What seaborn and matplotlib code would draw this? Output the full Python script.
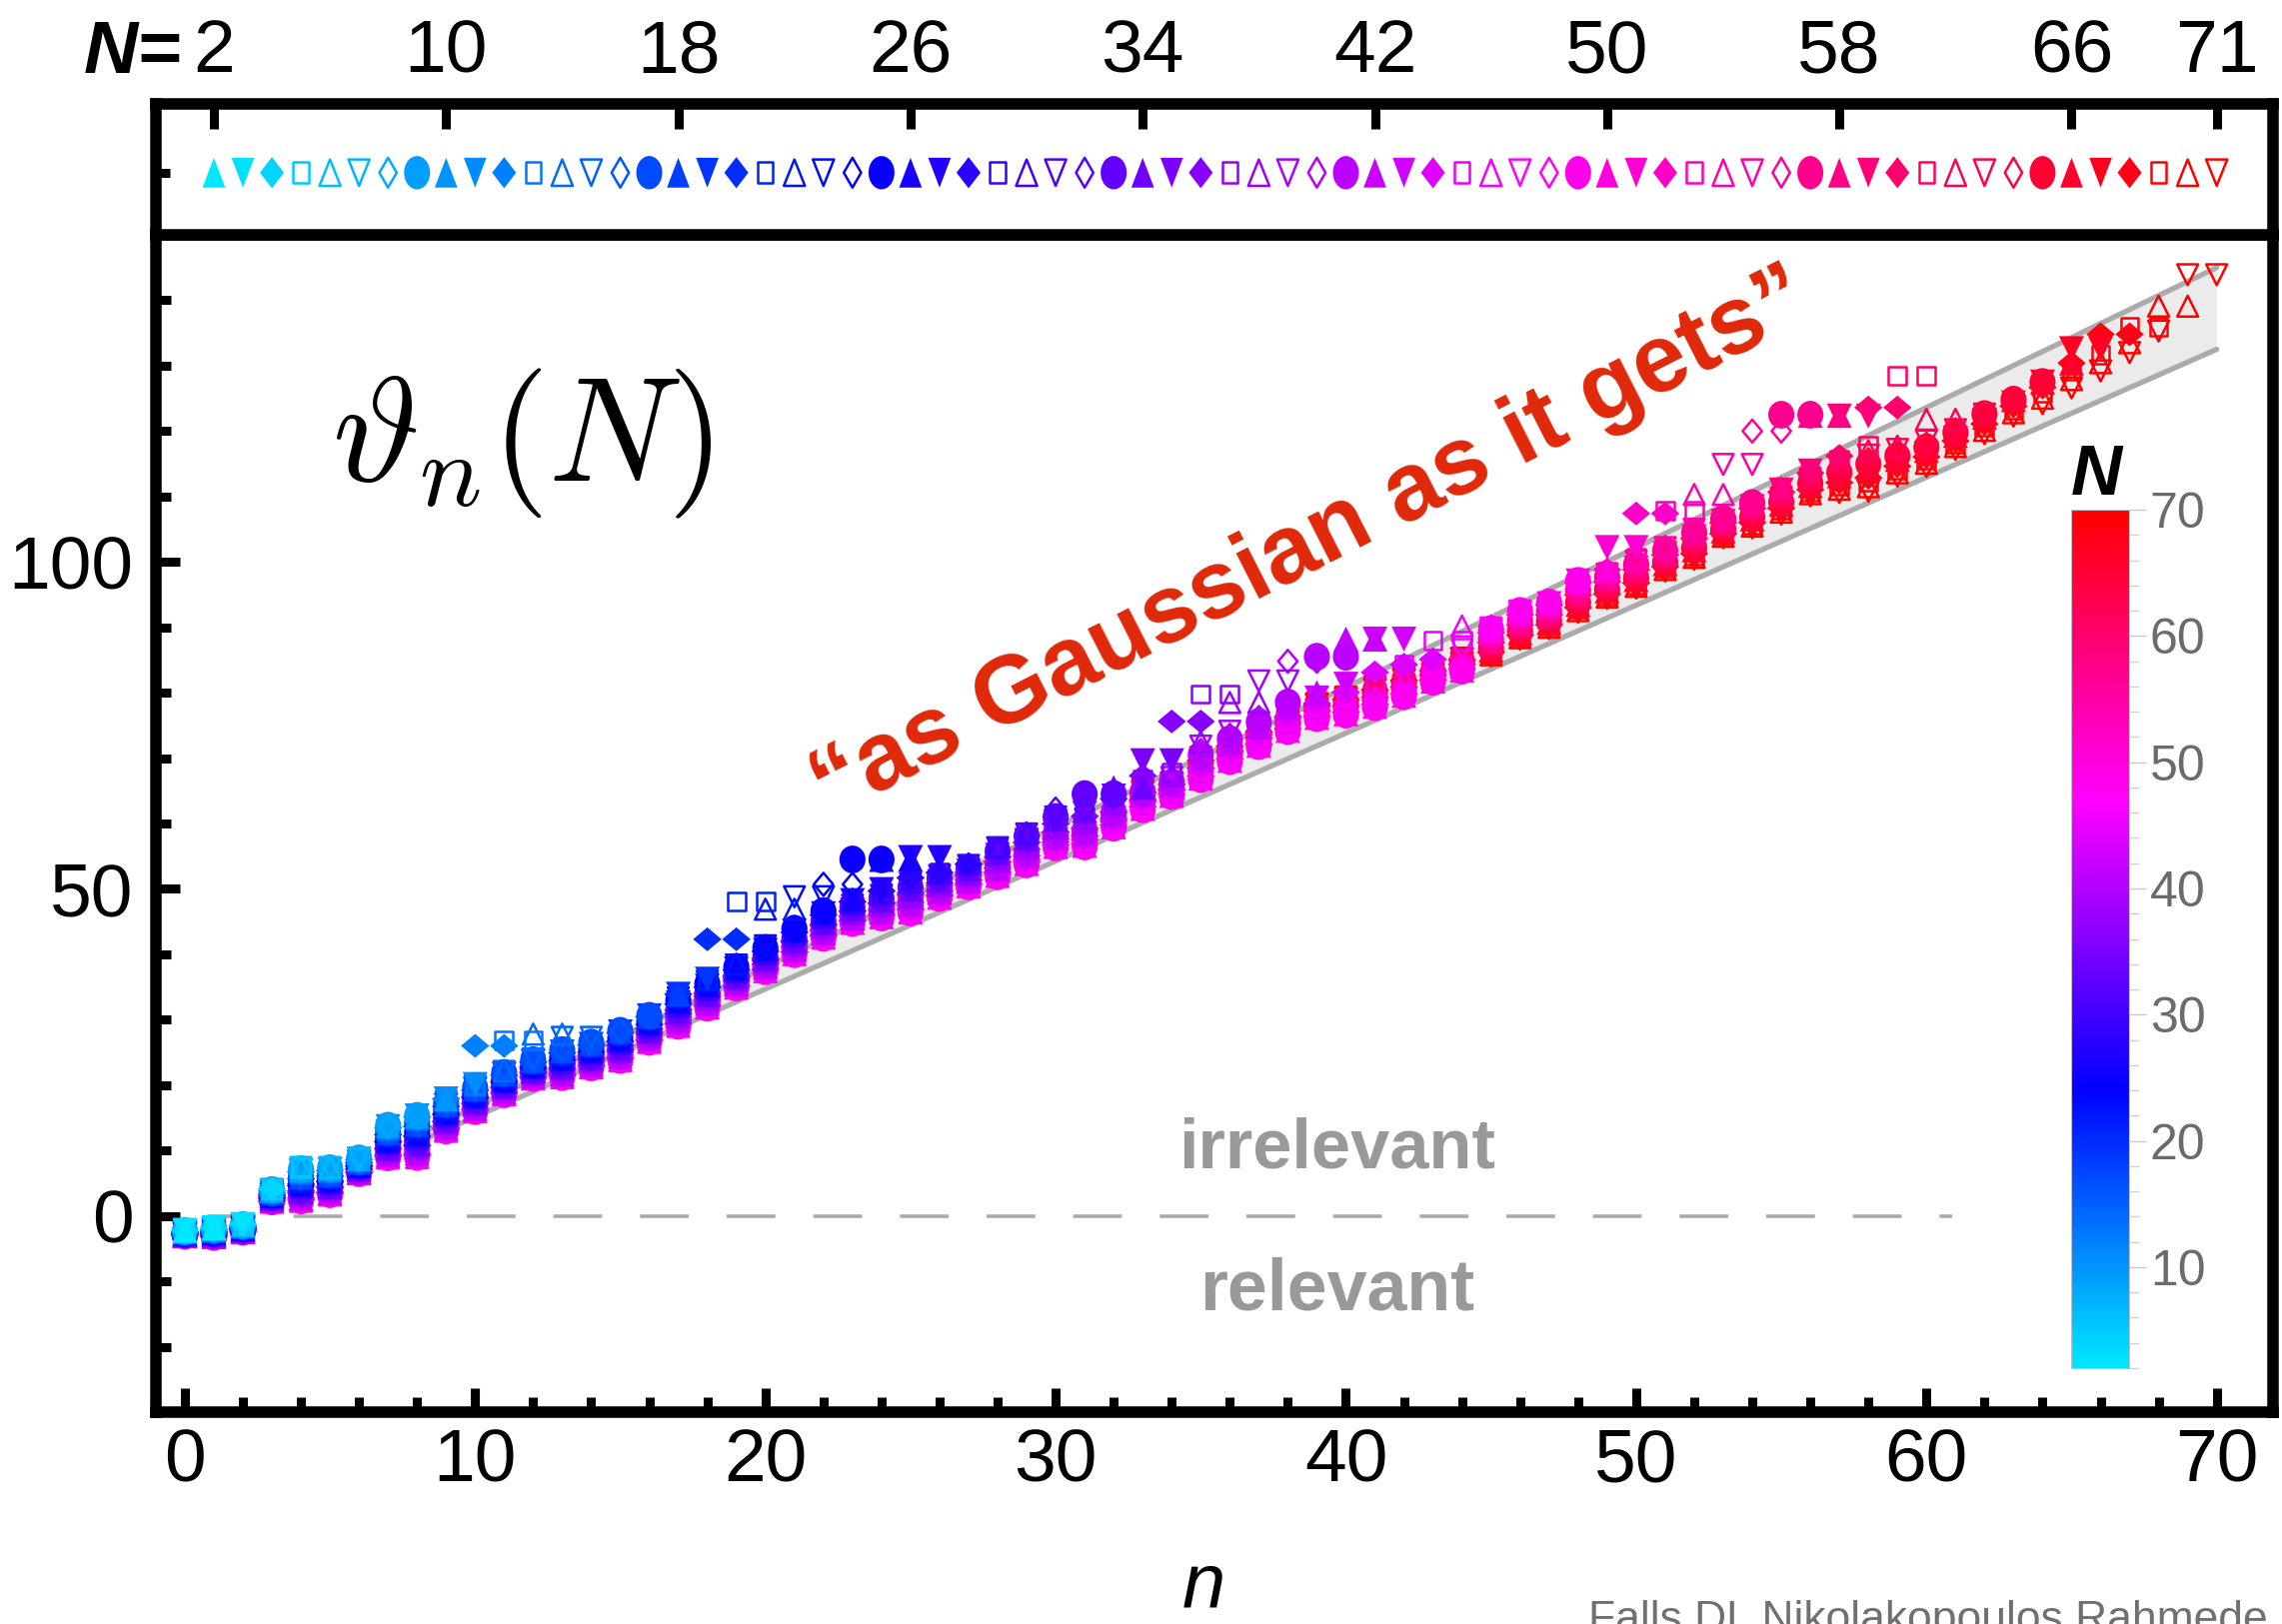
import numpy as np
import pandas as pd
import matplotlib
matplotlib.use("Agg")
import matplotlib.pyplot as plt
import seaborn as sns
from matplotlib.path import Path
from matplotlib.colors import LinearSegmentedColormap, Normalize
from matplotlib.cm import ScalarMappable
from matplotlib.ticker import FixedLocator

# ---------------- data ----------------
n_values = list(range(71))
# top / bottom of the stacked column of points at each n (centres)
bulk_hi = [-2.2, -1.8, -1.3, 4.1, 7.4, 7.4, 8.8, 13.8, 15.3, 17.9,
           20.1, 22.2, 24.0, 25.5, 26.5, 28.3, 30.6, 33.9, 36.2, 38.5,
           41.3, 44.1, 46.6, 48.4, 49.9, 51.7, 52.5, 53.8, 56.3, 58.4,
           61.0, 62.0, 64.2, 67.3, 67.8, 72.5, 74.1, 76.2, 78.5, 80.0,
           81.3, 83.1, 84.3, 85.1, 86.6, 89.9, 92.5, 93.8, 97.1, 98.8,
           100.6, 102.4, 105.0, 106.8, 109.0, 111.3, 113.9, 116.2, 117.7, 117.7,
           118.5, 120.2, 122.6, 124.8, 127.5, 130.4, 131.7, 133.5, 135.3, 139.1,
           143.9]
bulk_lo = [-3.1, -3.3, -2.5, 2.1, 2.1, 3.1, 6.4, 8.7, 8.7, 12.8,
           15.8, 18.4, 20.9, 21.0, 22.5, 23.6, 26.4, 28.8, 31.6, 34.7,
           37.2, 39.8, 42.3, 44.6, 45.4, 46.1, 48.4, 50.2, 51.7, 53.5,
           56.1, 56.2, 59.1, 61.9, 64.0, 66.5, 69.3, 71.6, 73.9, 75.9,
           76.4, 77.5, 79.2, 81.5, 83.3, 85.6, 88.2, 89.8, 92.3, 94.4,
           96.0, 98.6, 100.4, 103.7, 105.2, 107.3, 110.1, 110.6, 110.8, 113.1,
           114.6, 117.2, 119.6, 122.3, 124.2, 126.6, 129.2, 132.0, 134.5, 139.1,
           143.9]
# N whose points sit lowest in each column (high N drift back up above it)
column_bottom_N = [47] * 45 + [71] * 26
# the last two exponents (n = N-2, N-1) of these N sit above the band
pair_N = [12, 13, 14, 15, 20, 21, 22, 23, 24, 25, 26, 27,
          32, 33, 34, 35, 36, 37, 38, 39, 40, 41, 42, 43, 45, 46,
          51, 52, 53, 54, 55, 56, 57, 58, 59, 60, 61, 62,
          67, 68, 69, 70, 71]
pair_theta = [26.0, 26.8, 27.8, 27.3, 42.3, 48.1, 46.9, 48.8, 50.7, 54.5, 54.5, 54.8,
              62.2, 64.5, 65.5, 69.6, 75.6, 79.8, 78.5, 81.8, 84.8, 85.5, 88.2, 88.2, 88.0, 90.2,
              102.2, 107.4, 107.8, 110.3, 114.9, 120.0, 122.5, 122.4, 122.3, 123.6, 128.5, 121.8,
              132.6, 134.8, 136.0, 139.1, 143.9]
strip_N = list(range(2, 72))
top_tick_N = [2, 10, 18, 26, 34, 42, 50, 58, 66, 71]
band_n = [8.3, 70.0]
band_lower = [11.8, 132.5]
band_upper = [13.0, 145.0]
zero_line_n = [0.75, 60.9]
cbar_major = [10, 20, 30, 40, 50, 60, 70]
cmap_N = [2, 24, 47, 70]
cmap_colors = ["#00e8ff", "#0000ff", "#ff00ff", "#ff0000"]
N_min, N_max = 2, 70

# ---------------- build the table ----------------
pairs = dict(zip(pair_N, pair_theta))
rows = []
for N in strip_N:
    for n in range(N):
        if N in pairs and n >= N - 2:
            th = pairs[N]
        else:
            first = n + 3
            nb = max(column_bottom_N[n], first + 1)
            if N <= nb:
                r = (N - first) / (nb - first)
            else:
                r = 1.0 - 0.6 * (N - nb) / max(71 - nb, 1)
            r = min(max(r, 0.0), 1.0)
            th = bulk_hi[n] - r * (bulk_hi[n] - bulk_lo[n])
        rows.append({"N": N, "n": n, "theta": th})
df = pd.DataFrame(rows)
df_strip = pd.DataFrame({"N": strip_N, "pos": [N - 1 for N in strip_N], "y": [0.0] * len(strip_N)})

# ---------------- style ----------------
sns.set_theme(style="white")
plt.rcParams["font.family"] = ["Liberation Sans", "DejaVu Sans"]
plt.rcParams["mathtext.fontset"] = "cm"
for k in ["text.color", "axes.labelcolor", "xtick.color", "ytick.color"]:
    plt.rcParams[k] = "black"

cmap = LinearSegmentedColormap.from_list(
    "nn", [((v - N_min) / (N_max - N_min), c) for v, c in zip(cmap_N, cmap_colors)])
norm = Normalize(N_min, N_max, clip=True)


def poly(verts):
    v = np.array(list(verts) + [verts[0]], dtype=float)
    codes = [Path.MOVETO] + [Path.LINETO] * (len(verts) - 1) + [Path.CLOSEPOLY]
    return Path(v, codes)


def ellipse(sx, sy):
    c = Path.unit_circle()
    return Path(c.vertices * np.array([sx, sy]), c.codes)


def tri(w, up=True):
    s = 1 if up else -1
    return poly([(0, 0.5 * s), (-w, -0.5 * s), (w, -0.5 * s)])


def diamond(w, h):
    return poly([(w, 0), (0, h), (-w, 0), (0, -h)])


def rect(w, h):
    return poly([(-w, -h), (w, -h), (w, h), (-w, h)])


# kind index = (N-1) % 8 : ● ▲ ▼ ◆ □ △ ▽ ◇
main_markers = [(ellipse(0.47, 0.5), 20.0, True), (tri(0.5), 18.0, True), (tri(0.5, False), 18.0, True),
                (diamond(0.5, 0.42), 20.5, True), (rect(0.5, 0.5), 12.8, False),
                (tri(0.5), 15.0, False), (tri(0.5, False), 15.0, False),
                (diamond(0.42, 0.5), 16.5, False)]
strip_markers = [(ellipse(0.39, 0.5), 24.0, True), (tri(0.38), 21.5, True), (tri(0.38, False), 21.5, True),
                 (diamond(0.385, 0.5), 22.5, True), (rect(0.37, 0.5), 15.0, False),
                 (tri(0.4), 19.0, False), (tri(0.4, False), 19.0, False),
                 (diamond(0.29, 0.5), 21.5, False)]

W, H = 2283, 1625
fig = plt.figure(figsize=(W / 100, H / 100), dpi=100)
fig.patch.set_facecolor("white")

x_lo, x_hi = -1.01, 71.94
ax = fig.add_axes([155.6 / W, 1 - 1413 / H, (2274 - 155.6) / W, (1413 - 235) / H])
axs = fig.add_axes([155.6 / W, 1 - 235 / H, (2274 - 155.6) / W, (235 - 104) / H])
for a in (ax, axs):
    a.set_facecolor("white")
    for sp in a.spines.values():
        sp.set_visible(True)
        sp.set_color("black")
        sp.set_linewidth(8.3)


def scatter_one(axis, data, x, y, spec, color):
    mk, size, filled = spec
    sns.scatterplot(data=data, x=x, y=y, color=color, marker=mk, s=size ** 2,
                    edgecolor="none", linewidth=0, legend=False, ax=axis, zorder=3)
    coll = axis.collections[-1]
    if not filled:
        coll.set_facecolor("none")
        coll.set_edgecolor(color)
        coll.set_linewidth(1.8)


# band and reference line
ax.fill_between(band_n, band_lower, band_upper, color="#ebebeb", lw=0, zorder=1)
sns.lineplot(x=band_n, y=band_upper, color="#ababab", lw=3.8, ax=ax, zorder=2)
sns.lineplot(x=band_n, y=band_lower, color="#ababab", lw=3.8, ax=ax, zorder=2)
ax.plot(zero_line_n, [0, 0], color="#aaaaaa", lw=2.6, dashes=(13.5, 10.5), zorder=1)

# points: higher N first so that low N ends on top
for N in reversed(strip_N):
    col = cmap(norm(N))
    kind = (N - 1) % 8
    scatter_one(ax, df[df["N"] == N], "n", "theta", main_markers[kind], col)
    scatter_one(axs, df_strip[df_strip["N"] == N], "pos", "y", strip_markers[kind], col)

# main axes ticks
ax.set_xlim(x_lo, x_hi)
ax.set_ylim(-30, 150)
ax.set_xlabel("")
ax.set_ylabel("")
ax.xaxis.set_major_locator(FixedLocator(list(range(0, 71, 10))))
ax.xaxis.set_minor_locator(FixedLocator([v for v in range(0, 71, 2) if v % 10]))
ax.yaxis.set_major_locator(FixedLocator([0, 50, 100]))
ax.yaxis.set_minor_locator(FixedLocator([v for v in range(-20, 150, 10) if v % 50]))
ax.tick_params(which="both", direction="in", width=6.5, color="black",
               top=False, right=False, bottom=True, left=True)
ax.tick_params(which="major", length=17.5, labelsize=54)
ax.tick_params(which="minor", length=10.5)
ax.tick_params(axis="x", which="major", pad=11)
ax.tick_params(axis="y", which="major", pad=16)

# strip axes
axs.set_xlim(x_lo, x_hi)
axs.set_ylim(-0.95, 1.05)
axs.set_xlabel("")
axs.set_ylabel("")
axs.xaxis.tick_top()
axs.set_xticks([N - 1 for N in top_tick_N])
axs.set_xticklabels([str(N) for N in top_tick_N])
axs.set_yticks([0])
axs.set_yticklabels([])
axs.tick_params(axis="x", which="major", direction="in", length=18, width=6.5,
                labelsize=54, pad=12, top=True, bottom=False)
axs.tick_params(axis="y", which="major", direction="in", length=10, width=6.5,
                left=True, right=False)
axs.tick_params(axis="x", which="minor", top=False, bottom=False)

# colorbar
cax = fig.add_axes([2072 / W, 1 - 1369 / H, 58 / W, (1369 - 510) / H])
cb = fig.colorbar(ScalarMappable(norm=norm, cmap=cmap), cax=cax)
cb.set_ticks(cbar_major)
cb.ax.yaxis.set_minor_locator(FixedLocator(list(range(2, 71, 2))))
cb.ax.tick_params(which="major", length=12, width=1.0, color="#c8c8c8",
                  labelsize=36, labelcolor="#6b6b6b", pad=3)
cb.ax.tick_params(which="minor", length=7, width=1.0, color="#d0d0d0")
cb.outline.set_edgecolor("#c0c0c0")
cb.outline.set_linewidth(0.8)

# texts
renderer = fig.canvas.get_renderer()


def fit(t, target_px):
    w = t.get_window_extent(renderer=renderer).width
    t.set_fontsize(t.get_fontsize() * target_px / w)


fig.text(182 / W, 1 - 73 / H, "N=", fontsize=54, fontweight="bold", fontstyle="italic",
         ha="right", va="baseline")
th = fig.text(522 / W, 1 - 443 / H, r"$\vartheta_n(N)$", fontsize=96, ha="center", va="center")
fit(th, 381)
ann = fig.text(1312 / W, 1 - 545 / H, "\u201cas Gaussian as it gets\u201d", fontsize=66,
               fontweight="bold", color="#e0280a", ha="center", va="center",
               rotation_mode="anchor")
fit(ann, 1105)
ann.set_rotation(27.0)
t1 = ax.text(39.7, 7.3, "irrelevant", fontsize=48, fontweight="bold", color="#999999",
             ha="center", va="baseline")
fit(t1, 317)
t2 = ax.text(39.7, -14.4, "relevant", fontsize=48, fontweight="bold", color="#999999",
             ha="center", va="baseline")
fit(t2, 275)
fig.text(2097 / W, 1 - 495 / H, "N", fontsize=51, fontweight="bold", fontstyle="italic",
         ha="center", va="baseline")
fig.text(1204 / W, 1.0 / H, "n", fontsize=56, fontstyle="italic", ha="center", va="bottom")
cr = fig.text(1589 / W, 1 - 1601 / H, "Falls DL Nikolakopoulos Rahmede", fontsize=34,
              color="#707070", ha="left", va="top")
fit(cr, 679)

fig.savefig("out.png", dpi=100, facecolor="white")
